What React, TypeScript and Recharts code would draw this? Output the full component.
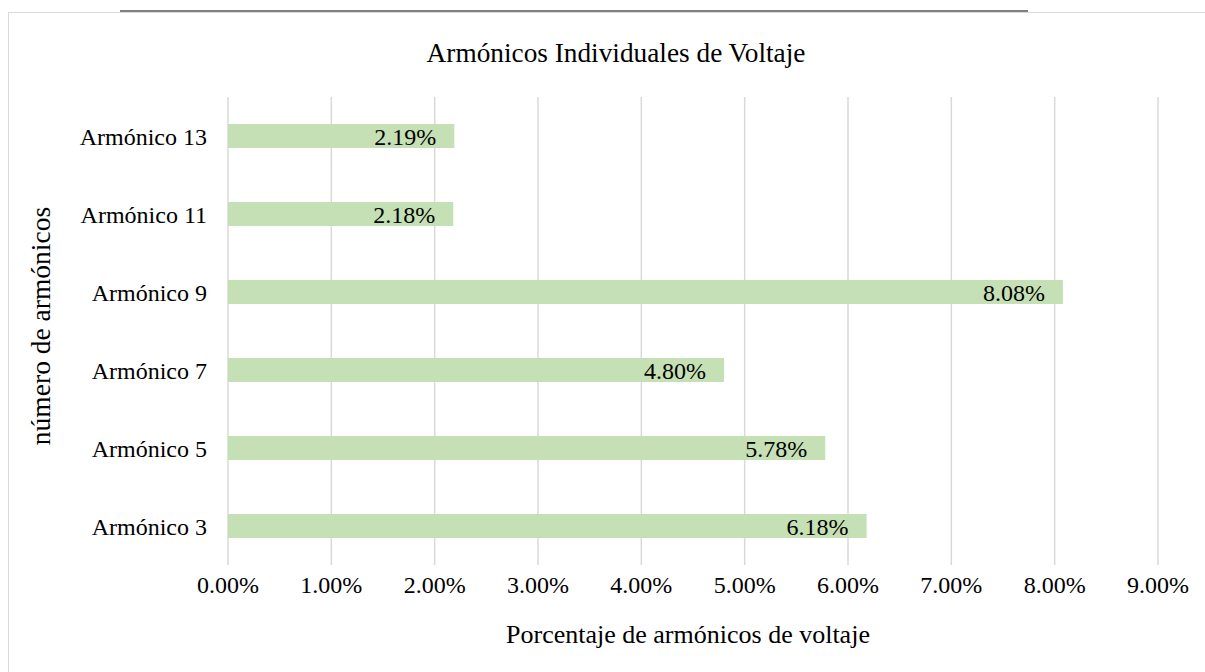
import React from 'react';
import { BarChart, Bar, XAxis, YAxis, CartesianGrid, LabelList } from 'recharts';

const categories = ['Armónico 13', 'Armónico 11', 'Armónico 9', 'Armónico 7', 'Armónico 5', 'Armónico 3'];
const values = [2.19, 2.18, 8.08, 4.8, 5.78, 6.18];
const xTicks = [0, 1, 2, 3, 4, 5, 6, 7, 8, 9];
const chartTitle = 'Armónicos Individuales de Voltaje';
const xTitle = 'Porcentaje de armónicos de voltaje';
const yTitle = 'número de armónicos';

const data = categories.map((name, i) => ({ name, value: values[i] }));

const FONT = '"Liberation Serif", "Times New Roman", serif';

export default function App() {
  return (
    <div
      style={{
        position: 'fixed',
        left: 0,
        top: 0,
        width: 1205,
        height: 672,
        overflow: 'hidden',
        background: '#ffffff',
        fontFamily: FONT,
      }}
    >
      <div
        style={{
          position: 'absolute',
          left: 8,
          top: 12,
          width: 1212,
          height: 700,
          boxSizing: 'border-box',
          border: '1.5px solid #d9d9d9',
        }}
      />
      <div
        style={{
          position: 'absolute',
          left: 120,
          top: 10,
          width: 908,
          height: 1.5,
          background: '#808080',
        }}
      />
      <div style={{ position: 'absolute', left: 8, top: 12 }}>
        <BarChart
          width={1212}
          height={660}
          data={data}
          layout="vertical"
          margin={{ top: 85, right: 62, left: 0, bottom: 47 }}
          barSize={24}
        >
          <CartesianGrid horizontal={false} stroke="#d9d9d9" strokeWidth={1.5} />
          <XAxis
            type="number"
            domain={[0, 9]}
            ticks={xTicks}
            interval={0}
            height={60}
            axisLine={false}
            tickLine={false}
            tickSize={6}
            tickMargin={5}
            tickFormatter={(v: number) => v.toFixed(2) + '%'}
            tick={{ fill: '#000000', fontSize: 24, fontFamily: FONT }}
          />
          <YAxis
            type="category"
            dataKey="name"
            width={220}
            axisLine={false}
            tickLine={false}
            tickSize={6}
            tickMargin={15}
            tick={{ fill: '#000000', fontSize: 24, fontFamily: FONT }}
          />
          <Bar dataKey="value" fill="#c5e0b4" isAnimationActive={false}>
            <LabelList
              dataKey="value"
              position="insideRight"
              offset={18}
              formatter={(v: number) => v.toFixed(2) + '%'}
              style={{ fill: '#000000', fontSize: 24, fontFamily: FONT }}
            />
          </Bar>
        </BarChart>
      </div>
      <svg
        width={1205}
        height={672}
        style={{ position: 'absolute', left: 0, top: 0, pointerEvents: 'none' }}
      >
        <text x={616} y={62} textAnchor="middle" fontSize={27.3} fontFamily={FONT} fill="#000000">
          {chartTitle}
        </text>
        <text x={688} y={643} textAnchor="middle" fontSize={26} fontFamily={FONT} fill="#000000">
          {xTitle}
        </text>
        <text
          x={0}
          y={0}
          transform="translate(50, 326) rotate(-90)"
          textAnchor="middle"
          fontSize={27.5}
          fontFamily={FONT}
          fill="#000000"
        >
          {yTitle}
        </text>
      </svg>
    </div>
  );
}
